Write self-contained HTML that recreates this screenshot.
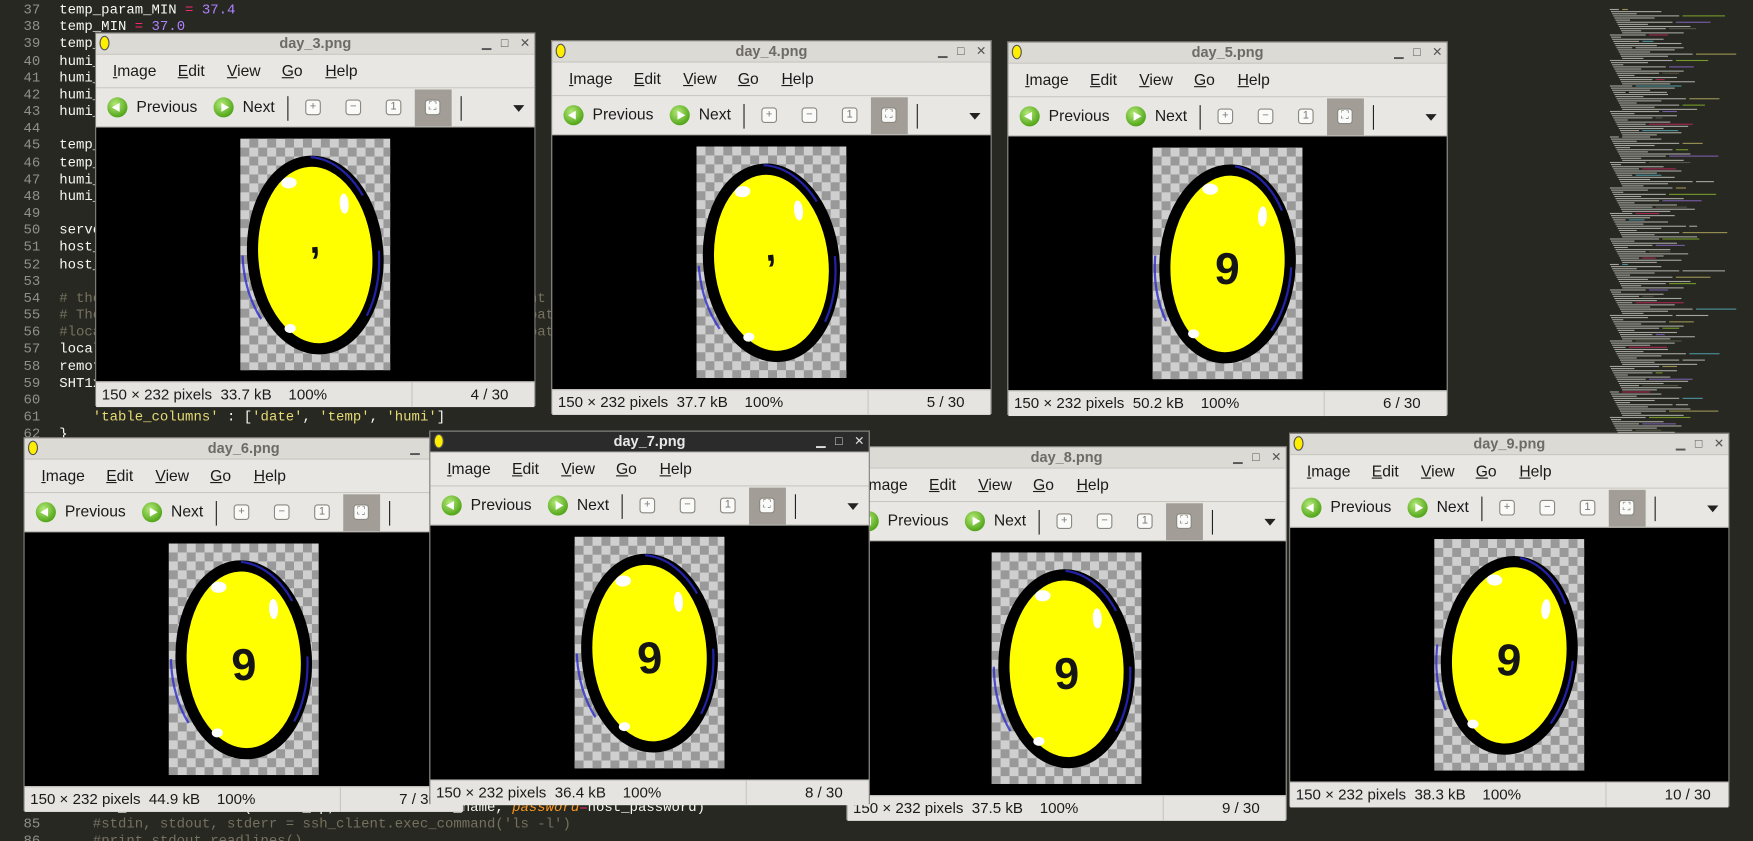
<!DOCTYPE html>
<html><head><meta charset="utf-8">
<style>
html,body{margin:0;padding:0;width:1753px;height:841px;overflow:hidden;background:#272822;}
#root{position:absolute;left:0;top:0;width:1568px;height:752px;transform:scale(1.11798,1.11835);transform-origin:0 0;background:#272822;overflow:hidden;}
.code{position:absolute;left:0;top:2px;font-family:"Liberation Mono",monospace;font-size:12.5px;color:#f8f8f2;}
.ln{position:absolute;width:36px;text-align:right;color:#8f908a;}
.cl{position:absolute;left:53px;white-space:pre;}
.op{color:#f92672}.nm{color:#ae81ff}.cm{color:#75715e}.st{color:#e6db74}.kw{color:#fd971f;font-style:italic}
.win{position:absolute;width:394px;height:334px;background:#dcdad5;border:1px solid #7a7874;box-sizing:border-box;font-family:"Liberation Sans","DejaVu Sans",sans-serif;}
.tb{position:absolute;left:0;top:0;right:0;height:18px;background:#dcdad5;color:#6e6b66;font-weight:bold;font-size:13px;text-align:center;line-height:18px;}
.win.active .tb{background:#2b2b2b;color:#e8e8e8;}
.ticon{position:absolute;left:3px;top:2px;width:9px;height:13px;border-radius:50%;background:#ffee00;border:1px solid #555;box-sizing:border-box;}
.ctl{position:absolute;top:0;font-size:11px;color:#555;}
.win.active .ctl{color:#ddd}
.mb{position:absolute;left:0;right:0;top:18px;height:31px;background:#e9e7e3;border-top:1px solid #c8c6c0;border-bottom:1px solid #c8c6c0;box-sizing:border-box;font-size:14px;color:#1a1a1a;}
.mb span{position:absolute;top:6px;}
.tl{position:absolute;left:0;right:0;top:49px;height:35px;background:#e9e7e3;font-size:14px;color:#1a1a1a;border-bottom:1px solid #b8b6b0;box-sizing:border-box;}
.gbtn{position:absolute;top:8px;width:18px;height:18px;border-radius:50%;background:radial-gradient(circle at 40% 35%,#b6ea7a,#55a81c 70%,#3f8a12);}
.gbtn i{position:absolute;left:4px;top:5px;width:0;height:0;border-top:4px solid transparent;border-bottom:4px solid transparent;}
.sq{position:absolute;top:10px;width:14px;height:14px;border:1px solid #8a8880;border-radius:3px;background:#fafaf8;box-sizing:border-box;font-size:10px;line-height:12px;text-align:center;color:#777;}
.sep{position:absolute;top:7px;width:1px;height:22px;background:#222;}
.img{position:absolute;left:0;right:0;top:84px;height:227px;background:#000;}
.chk{position:absolute;width:134px;height:207px;background-color:#cfcfcf;background-image:conic-gradient(#999 25%,transparent 0 50%,#999 0 75%,transparent 0);background-size:16px 16px;}
.sb{position:absolute;left:0;right:0;top:311px;height:22px;background:#e6e4e0;font-size:13.5px;color:#1a1a1a;line-height:22px;border-top:1px solid #c0beb8;}
.sb .dv{position:absolute;left:282px;top:0;width:1px;height:22px;background:#c8c6c0;}
.mini{position:absolute;left:1430px;top:0;width:138px;height:752px;background:#272822;}
</style></head>
<body>
<div id="root">
<div class="code" id="code"></div>
<svg class="mini" id="mini"></svg>
</div>
<script>
var root=document.getElementById('root');
var code=document.getElementById('code');
var lines={
37:'temp_param_MIN <span class="op">=</span> <span class="nm">37.4</span>',
38:'temp_MIN <span class="op">=</span> <span class="nm">37.0</span>',
39:'temp_MAX <span class="op">=</span> <span class="nm">38.0</span>',
40:'humi_param_MAX <span class="op">=</span> <span class="nm">60</span>',
41:'humi_param_MIN <span class="op">=</span> <span class="nm">50</span>',
42:'humi_MAX <span class="op">=</span> <span class="nm">65</span>',
43:'humi_MIN <span class="op">=</span> <span class="nm">45</span>',
44:'',
45:'temp_count <span class="op">=</span> <span class="nm">0</span>',
46:'temp_state <span class="op">=</span> <span class="nm">0</span>',
47:'humi_count <span class="op">=</span> <span class="nm">0</span>',
48:'humi_state <span class="op">=</span> <span class="nm">0</span>',
49:'',
50:'server_ip <span class="op">=</span> <span class="st">"192.168.0.10"</span>',
51:'host_name <span class="op">=</span> <span class="st">"pi"</span>',
52:'host_password <span class="op">=</span> <span class="st">"raspberry"</span>',
53:'',
54:'<span class="cm"># the image file is saved in local directory and then sent to the server via scp. All</span>',
55:'<span class="cm"># The local path of the image is the same as the remote path in this example, next</span>',
56:'<span class="cm">#local_path = "/home/pi/egg/images/" + ... in the local path, same as remote path</span>',
57:'local_path <span class="op">=</span> <span class="st">"/home/pi/egg/images/"</span>                                   <span class="st">int</span>',
58:'remote_path <span class="op">=</span> <span class="st">"/var/www/html/images/"</span>',
59:'SHT1x_config <span class="op">=</span> {',
60:'',
61:'    <span class="st">\'table_columns\'</span> : [<span class="st">\'date\'</span>, <span class="st">\'temp\'</span>, <span class="st">\'humi\'</span>]',
62:'}',
84:'    ssh_client.connect(server_ip, username=host_name, <span class="kw">password</span><span class="op">=</span>host_password)',
85:'    <span class="cm">#stdin, stdout, stderr = ssh_client.exec_command(\'ls -l\')</span>',
86:'    <span class="cm">#print stdout.readlines()</span>'
};
for(var n=37;n<=86;n++){
  var y=(n-37)*15.17;
  var l=document.createElement('div');
  l.className='ln';
  l.style.top=y+'px';
  l.textContent=n;
  
  
  code.appendChild(l);
  var c=document.createElement('div');
  c.className='cl';
  c.style.top=y+'px';
  c.innerHTML=lines[n]!==undefined?lines[n]:'';
  
  
  code.appendChild(c);
}
var mini=document.getElementById('mini');
var mcols=['#f8f8f2','#75715e','#e6db74','#f92672','#a6e22e','#66d9ef','#ae81ff'];
var s='';
for(var i=0;i<200;i++){
  var yy=8+i*1.9;
  var w=8+((i*37)%60);
  var x=10+((i*13)%12);
  s+='<rect x="'+x+'" y="'+yy+'" width="'+w+'" height="1" fill="'+mcols[(i*7)%7]+'" opacity="0.6"/>';
  if(i%3==0) s+='<rect x="'+(x+w+3)+'" y="'+yy+'" width="'+(((i*11)%40)+5)+'" height="1" fill="'+mcols[(i*3+2)%7]+'" opacity="0.6"/>';
}
mini.innerHTML=s;

var wins=[
 {n:3,x:85,y:29,kb:'33.7',idx:'4 / 30',dig:',',z:2,act:false,rot:-4},
 {n:4,x:493,y:36,kb:'37.7',idx:'5 / 30',dig:',',z:2,act:false,rot:-6},
 {n:5,x:901,y:37,kb:'50.2',idx:'6 / 30',dig:'9',z:2,act:false,rot:3},
 {n:6,x:21,y:391,kb:'44.9',idx:'7 / 30',dig:'9',z:3,act:false,rot:-3},
 {n:8,x:757,y:399,kb:'37.5',idx:'9 / 30',dig:'9',z:3,act:false,rot:-2},
 {n:9,x:1153,y:387,kb:'38.3',idx:'10 / 30',dig:'9',z:3,act:false,rot:5},
 {n:7,x:384,y:385,kb:'36.4',idx:'8 / 30',dig:'9',z:5,act:true,rot:-4}
];
wins.forEach(function(w){
  var d=document.createElement('div');
  d.className='win'+(w.act?' active':'');
  d.style.left=w.x+'px';d.style.top=w.y+'px';d.style.zIndex=w.z;
  
  
  d.innerHTML=
  '<div class="tb"><div class="ticon"></div>day_'+w.n+'.png'+
   '<span class="ctl" style="left:345px">&#9601;</span><span class="ctl" style="left:362px">&#9633;</span><span class="ctl" style="left:379px">&#10005;</span></div>'+
  '<div class="mb"><span style="left:15px"><u>I</u>mage</span><span style="left:73px"><u>E</u>dit</span><span style="left:117px"><u>V</u>iew</span><span style="left:166px"><u>G</u>o</span><span style="left:205px"><u>H</u>elp</span></div>'+
  '<div class="tl">'+
   '<div class="gbtn" style="left:10px"><i style="border-right:7px solid #fff;left:4px"></i></div><span style="position:absolute;left:36px;top:8px">Previous</span>'+
   '<div class="gbtn" style="left:105px"><i style="border-left:7px solid #fff;left:7px"></i></div><span style="position:absolute;left:131px;top:8px">Next</span>'+
   '<div class="sep" style="left:171px"></div>'+
   '<div class="sq" style="left:187px">+</div>'+
   '<div class="sq" style="left:223px">&#8722;</div>'+
   '<div class="sq" style="left:259px">1</div>'+
   '<div style="position:absolute;left:285px;top:1px;width:33px;height:33px;background:#a29e97"><div class="sq" style="left:9px;top:9px">&#9974;</div></div>'+
   '<div class="sep" style="left:326px"></div>'+
   '<div style="position:absolute;left:373px;top:15px;width:0;height:0;border-left:5px solid transparent;border-right:5px solid transparent;border-top:6px solid #222"></div>'+
  '</div>'+
  '<div class="img"><div class="chk" style="left:129px;top:10px">'+
   '<svg width="134" height="207" viewBox="0 0 134 207"><g transform="rotate('+w.rot+' 67 104)">'+
   '<ellipse cx="67" cy="104" rx="56" ry="84" fill="#ffff00" stroke="#000" stroke-width="10"/>'+
   '<ellipse cx="63" cy="104" rx="61" ry="88" fill="none" stroke="#2a2ad0" stroke-width="2" stroke-dasharray="60 120" opacity="0.8"/>'+
   '<ellipse cx="48" cy="38" rx="7" ry="5" fill="#fff"/><ellipse cx="96" cy="60" rx="4" ry="9" fill="#fff"/><ellipse cx="40" cy="168" rx="5" ry="4" fill="#fff"/>'+
   (w.dig===','?'<text x="67" y="102" font-family="Liberation Sans,sans-serif" font-size="34" font-weight="bold" text-anchor="middle" fill="#111">,</text>':
   '<text x="67" y="122" font-family="Liberation Sans,sans-serif" font-size="40" font-weight="bold" text-anchor="middle" fill="#151515">9</text>')+
   '</g></svg></div></div>'+
  '<div class="sb"><span style="position:absolute;left:5px">150 × 232 pixels&nbsp; '+w.kb+' kB &nbsp;&nbsp; 100%</span><div class="dv"></div><span style="position:absolute;left:335px">'+w.idx+'</span></div>';
  root.appendChild(d);
});
</script>
</body></html>
